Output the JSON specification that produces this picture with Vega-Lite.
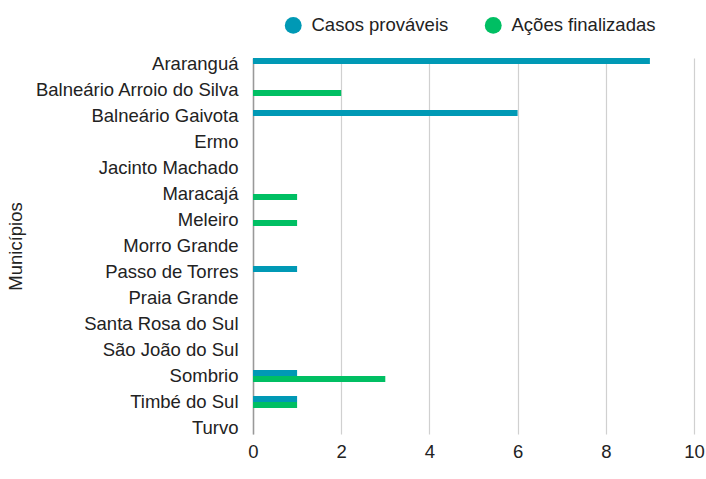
{
  "$schema": "https://vega.github.io/schema/vega-lite/v6.json",
  "width": 441,
  "height": 376,
  "autosize": {"type": "none"},
  "padding": {"left": 253, "top": 58, "right": 12, "bottom": 45},
  "config": {
    "font": "Liberation Sans",
    "view": {"stroke": null}
  },
  "data": {
    "values": [
      {"municipio": "Araranguá", "serie": "Casos prováveis", "valor": 9},
      {"municipio": "Araranguá", "serie": "Ações finalizadas", "valor": 0},
      {"municipio": "Balneário Arroio do Silva", "serie": "Casos prováveis", "valor": 0},
      {"municipio": "Balneário Arroio do Silva", "serie": "Ações finalizadas", "valor": 2},
      {"municipio": "Balneário Gaivota", "serie": "Casos prováveis", "valor": 6},
      {"municipio": "Balneário Gaivota", "serie": "Ações finalizadas", "valor": 0},
      {"municipio": "Ermo", "serie": "Casos prováveis", "valor": 0},
      {"municipio": "Ermo", "serie": "Ações finalizadas", "valor": 0},
      {"municipio": "Jacinto Machado", "serie": "Casos prováveis", "valor": 0},
      {"municipio": "Jacinto Machado", "serie": "Ações finalizadas", "valor": 0},
      {"municipio": "Maracajá", "serie": "Casos prováveis", "valor": 0},
      {"municipio": "Maracajá", "serie": "Ações finalizadas", "valor": 1},
      {"municipio": "Meleiro", "serie": "Casos prováveis", "valor": 0},
      {"municipio": "Meleiro", "serie": "Ações finalizadas", "valor": 1},
      {"municipio": "Morro Grande", "serie": "Casos prováveis", "valor": 0},
      {"municipio": "Morro Grande", "serie": "Ações finalizadas", "valor": 0},
      {"municipio": "Passo de Torres", "serie": "Casos prováveis", "valor": 1},
      {"municipio": "Passo de Torres", "serie": "Ações finalizadas", "valor": 0},
      {"municipio": "Praia Grande", "serie": "Casos prováveis", "valor": 0},
      {"municipio": "Praia Grande", "serie": "Ações finalizadas", "valor": 0},
      {"municipio": "Santa Rosa do Sul", "serie": "Casos prováveis", "valor": 0},
      {"municipio": "Santa Rosa do Sul", "serie": "Ações finalizadas", "valor": 0},
      {"municipio": "São João do Sul", "serie": "Casos prováveis", "valor": 0},
      {"municipio": "São João do Sul", "serie": "Ações finalizadas", "valor": 0},
      {"municipio": "Sombrio", "serie": "Casos prováveis", "valor": 1},
      {"municipio": "Sombrio", "serie": "Ações finalizadas", "valor": 3},
      {"municipio": "Timbé do Sul", "serie": "Casos prováveis", "valor": 1},
      {"municipio": "Timbé do Sul", "serie": "Ações finalizadas", "valor": 1},
      {"municipio": "Turvo", "serie": "Casos prováveis", "valor": 0},
      {"municipio": "Turvo", "serie": "Ações finalizadas", "valor": 0}
    ]
  },
  "mark": {"type": "bar"},
  "encoding": {
    "y": {
      "field": "municipio",
      "type": "nominal",
      "sort": null,
      "scale": {"paddingInner": 0.538, "paddingOuter": 0},
      "axis": {
        "title": "Municípios",
        "titleFont": "Liberation Sans",
        "titleFontSize": 18.5,
        "titleFontWeight": "normal",
        "titleColor": "#222",
        "titlePadding": 28,
        "labelFont": "Liberation Sans",
        "labelFontSize": 18.5,
        "labelColor": "#222",
        "labelPadding": 15,
        "labelLimit": 400,
        "labelOffset": 0,
        "ticks": false,
        "domain": true,
        "domainColor": "#999999",
        "domainWidth": 1.5,
        "grid": false
      }
    },
    "yOffset": {
      "field": "serie",
      "type": "nominal",
      "sort": ["Casos prováveis", "Ações finalizadas"]
    },
    "x": {
      "field": "valor",
      "type": "quantitative",
      "scale": {"domain": [0, 10]},
      "axis": {
        "title": null,
        "values": [0, 2, 4, 6, 8, 10],
        "labelFont": "Liberation Sans",
        "labelFontSize": 18.5,
        "labelColor": "#222",
        "labelPadding": 8,
        "labelFlush": false,
        "ticks": false,
        "domain": false,
        "grid": true,
        "gridColor": "#d0d0d0",
        "gridWidth": 1.2
      }
    },
    "color": {
      "field": "serie",
      "type": "nominal",
      "sort": ["Casos prováveis", "Ações finalizadas"],
      "scale": {"domain": ["Casos prováveis", "Ações finalizadas"], "range": ["#0099B5", "#00BF63"]},
      "legend": {
        "title": null,
        "orient": "none",
        "direction": "horizontal",
        "legendX": 31,
        "legendY": -42,
        "symbolType": "circle",
        "symbolSize": 285,
        "symbolStrokeWidth": 0,
        "labelFont": "Liberation Sans",
        "labelFontSize": 18.5,
        "labelColor": "#222",
        "labelOffset": 9,
        "columnPadding": 35
      }
    }
  }
}
